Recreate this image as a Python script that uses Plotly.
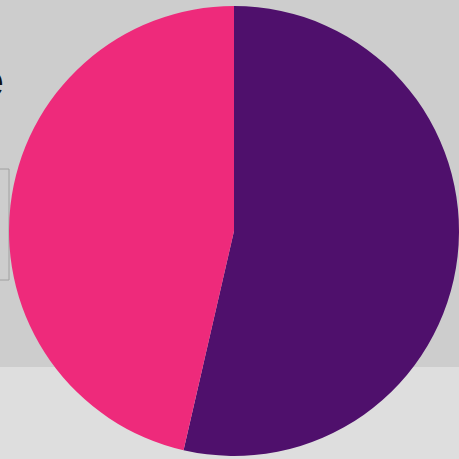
import plotly.graph_objects as go

# Two-slice share chart
labels = ["Group A", "Group B"]
values = [53.6, 46.4]
colors = ["#4f106c", "#ee2a7b"]

W = H = 459

fig = go.Figure(
    go.Pie(
        labels=labels,
        values=values,
        sort=False,
        direction="clockwise",
        rotation=0,
        marker=dict(colors=colors, line=dict(width=0)),
        textinfo="none",
        hoverinfo="label+percent",
        showlegend=False,
        domain=dict(x=[9 / W, 1.0], y=[2 / H, 454 / H]),
    )
)

# Muted photographic-style backdrop: darker upper band, lighter floor
fig.add_shape(type="rect", xref="paper", yref="paper", x0=0, x1=1, y0=0, y1=92 / H,
              fillcolor="#dedede", line_width=0, layer="below")
fig.add_shape(type="rect", xref="paper", yref="paper", x0=0, x1=1, y0=92 / H, y1=1,
              fillcolor="#cdcdcd", line_width=0, layer="below")
fig.add_shape(type="rect", xref="paper", yref="paper", x0=-0.05, x1=9 / W,
              y0=(H - 280) / H, y1=(H - 169) / H,
              fillcolor="rgba(0,0,0,0)", line=dict(color="#a0a0a0", width=1), layer="below")

# Title fragment running off the left edge
fig.add_annotation(text="<b>e</b>", xref="paper", yref="paper", x=5 / W, y=(H - 80) / H,
                   xanchor="right", yanchor="middle", showarrow=False, borderpad=0,
                   font=dict(family="Liberation Sans, Arial", size=48, color="#111111"))

fig.update_layout(
    width=W,
    height=H,
    margin=dict(l=0, r=0, t=0, b=0),
    paper_bgcolor="#cdcdcd",
    plot_bgcolor="#cdcdcd",
)

fig.write_html("out.html")
